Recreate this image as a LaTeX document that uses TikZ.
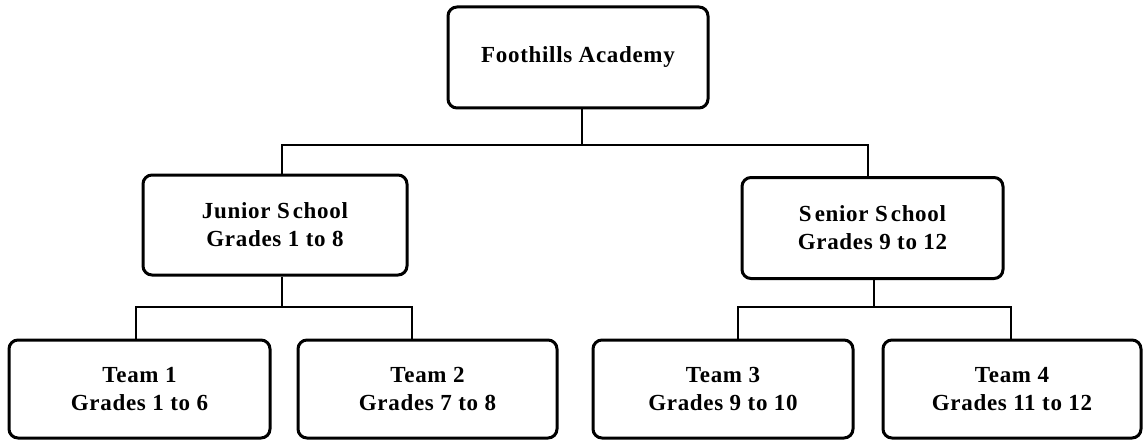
\documentclass[tikz,border=0pt]{standalone}
\usepackage{fontspec}
\setmainfont{Liberation Serif}[LetterSpace=3]
\begin{document}
\begin{tikzpicture}[x=1pt,y=-1pt,
  box/.style={draw=black, line width=3pt, rounded corners=9pt, fill=white,
    align=center, inner sep=0pt,
    font=\fontsize{23pt}{28pt}\selectfont\bfseries},
  conn/.style={draw=black, line width=1.5pt}]
\useasboundingbox (0,0) rectangle (1143,441);
% nodes
\node[box, minimum width=260pt, minimum height=101pt] (foot) at (578,57.5) {Foothills Academy};
\node[box, minimum width=264pt, minimum height=100pt] (jr) at (275,225) {Junior S\kern3pt chool\\Grades 1 to 8};
\node[box, minimum width=261pt, minimum height=101pt] (sr) at (872.5,228) {S\kern3pt enior S\kern3pt chool\\Grades 9 to 12};
\node[box, minimum width=261pt, minimum height=98pt] (t1) at (139.5,389) {Team 1\\Grades 1 to 6};
\node[box, minimum width=259pt, minimum height=98pt] (t2) at (427.5,389) {Team 2\\Grades 7 to 8};
\node[box, minimum width=260pt, minimum height=98pt] (t3) at (723,389) {Team 3\\Grades 9 to 10};
\node[box, minimum width=258pt, minimum height=98pt] (t4) at (1012,389) {Team 4\\Grades 11 to 12};
% bus points
\coordinate (f1) at (582,145);
\coordinate (j1) at (282,145);
\coordinate (s1) at (868,145);
\coordinate (jb) at (282,307);
\coordinate (a1) at (136,307);
\coordinate (a2) at (412,307);
\coordinate (sb) at (874,307);
\coordinate (b1) at (738,307);
\coordinate (b2) at (1011,307);
% connectors
\draw[conn] (foot.south -| f1) -- (f1);
\draw[conn] (jr.north -| j1) -- (j1) -- (s1) -- (sr.north -| s1);
\draw[conn] (jr.south -| jb) -- (jb);
\draw[conn] (t1.north -| a1) -- (a1) -- (a2) -- (t2.north -| a2);
\draw[conn] (sr.south -| sb) -- (sb);
\draw[conn] (t3.north -| b1) -- (b1) -- (b2) -- (t4.north -| b2);
\end{tikzpicture}
\end{document}
